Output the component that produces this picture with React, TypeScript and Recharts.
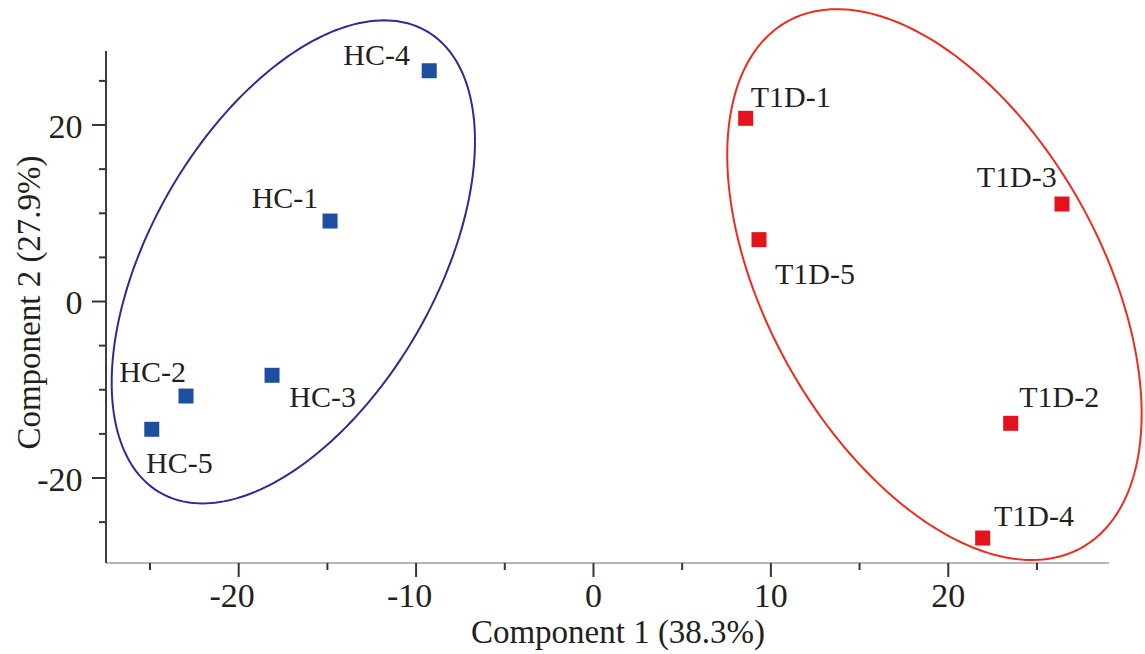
import React from 'react';
import { ScatterChart, Scatter, XAxis, YAxis, ReferenceLine } from 'recharts';

// ---- data ----
const hcNames = ['HC-1', 'HC-2', 'HC-3', 'HC-4', 'HC-5'];
const hcX = [-14.85, -22.97, -18.12, -9.26, -24.9];
const hcY = [9.12, -10.71, -8.36, 26.15, -14.48];

const t1dNames = ['T1D-1', 'T1D-2', 'T1D-3', 'T1D-4', 'T1D-5'];
const t1dX = [8.58, 23.52, 26.41, 21.94, 9.33];
const t1dY = [20.76, -13.8, 11.05, -26.8, 7.01];

const xTicks = [-25, -20, -15, -10, -5, 0, 5, 10, 15, 20, 25];
const xTickLabels = [-20, -10, 0, 10, 20];
const yTicks = [-25, -20, -15, -10, -5, 0, 5, 10, 15, 20, 25];
const yTickLabels = [-20, 0, 20];

const xTitle = 'Component 1 (38.3%)';
const yTitle = 'Component 2 (27.9%)';

// ellipse parameters: [centerX, centerY, halfWidthX, halfHeightY, correlation]
const hcEllipse = [-16.92, 4.49, 10.24, 27.37, 0.5];
const t1dEllipse = [19.22, 1.92, 11.68, 31.21, -0.47];

// axis extents (data units)
const xDomain: [number, number] = [-27.48, 31.09];
const yDomain: [number, number] = [-29.63, 33.6];
const xAxisEnd = 29.06;
const yAxisEnd = 28.39;

// ---- layout / style ----
const FONT = '"Liberation Serif", "Times New Roman", Times, serif';
const TEXT = '#231f20';
const BLUE = '#1d4fa0';
const BLUE_LINE = '#2c2b97';
const RED = '#e3121c';
const RED_LINE = '#ee2b1f';

const labelPlacement: Record<string, { anchor: 'start' | 'end'; dx: number; dy: number }> = {
  'HC-1': { anchor: 'end', dx: -11.7, dy: -12.7 },
  'HC-2': { anchor: 'end', dx: 0, dy: -14.3 },
  'HC-3': { anchor: 'start', dx: 17.3, dy: 31.4 },
  'HC-4': { anchor: 'end', dx: -19.3, dy: -5.7 },
  'HC-5': { anchor: 'start', dx: -5.7, dy: 44 },
  'T1D-1': { anchor: 'start', dx: 5, dy: -11.6 },
  'T1D-2': { anchor: 'start', dx: 8.6, dy: -16.6 },
  'T1D-3': { anchor: 'end', dx: -5.3, dy: -16.7 },
  'T1D-4': { anchor: 'start', dx: 11.3, dy: -11.6 },
  'T1D-5': { anchor: 'start', dx: 16, dy: 44.4 },
};

const hcData = hcNames.map((name, i) => ({ name, x: hcX[i], y: hcY[i] }));
const t1dData = t1dNames.map((name, i) => ({ name, x: t1dX[i], y: t1dY[i] }));

function ellipsePoints(p: number[]) {
  const [cx, cy, rx, ry, rho] = p;
  const phi = Math.acos(rho);
  const pts: { x: number; y: number }[] = [];
  const n = 240;
  for (let k = 0; k <= n; k++) {
    const t = (2 * Math.PI * k) / n;
    pts.push({ x: cx + rx * Math.cos(t), y: cy + ry * Math.cos(t - phi) });
  }
  return pts;
}

const hcEllipsePts = ellipsePoints(hcEllipse);
const t1dEllipsePts = ellipsePoints(t1dEllipse);

const makeSquare = (color: string) => (props: any) => {
  const { cx, cy, payload } = props;
  if (cx == null || cy == null) return <g />;
  const place = labelPlacement[payload.name];
  const s = 15;
  return (
    <g>
      <rect x={cx - s / 2} y={cy - s / 2} width={s} height={s} fill={color} />
      <text
        x={cx + place.dx}
        y={cy + place.dy}
        textAnchor={place.anchor}
        fontFamily={FONT}
        fontSize={30}
        fill={TEXT}
      >
        {payload.name}
      </text>
    </g>
  );
};

const XTick = (props: any) => {
  const { x, y, payload } = props;
  const v = payload.value;
  const major = xTickLabels.includes(v);
  return (
    <g>
      <line x1={x} x2={x} y1={y} y2={y + (major ? 14 : 7)} stroke="#3a3431" strokeWidth={2} />
      {major && (
        <text
          x={x + (v < 0 ? -6.5 : 0)}
          y={y + 44}
          textAnchor="middle"
          fontFamily={FONT}
          fontSize={34}
          fill={TEXT}
        >
          {String(v)}
        </text>
      )}
    </g>
  );
};

const YTick = (props: any) => {
  const { x, y, payload } = props;
  const v = payload.value;
  const major = yTickLabels.includes(v);
  return (
    <g>
      <line x1={x - (major ? 14 : 7)} x2={x} y1={y} y2={y} stroke="#3a3431" strokeWidth={2} />
      {major && (
        <text x={x - 23.5} y={y + 12.5} textAnchor="end" fontFamily={FONT} fontSize={34} fill={TEXT}>
          {String(v)}
        </text>
      )}
    </g>
  );
};

const XTitle = (props: any) => {
  const vb = props.viewBox;
  return (
    <text
      x={vb.x + vb.width / 2 - 7.5}
      y={vb.y + 80}
      textAnchor="middle"
      fontFamily={FONT}
      fontSize={33}
      fill={TEXT}
    >
      {xTitle}
    </text>
  );
};

const YTitle = (props: any) => {
  const vb = props.viewBox;
  const cx = vb.x + 40;
  const cy = vb.y + vb.height / 2 + 18.5;
  return (
    <text
      x={cx}
      y={cy}
      transform={`rotate(-90, ${cx}, ${cy})`}
      textAnchor="middle"
      fontFamily={FONT}
      fontSize={33}
      fill={TEXT}
    >
      {yTitle}
    </text>
  );
};

const noShape = () => <g />;

export default function App() {
  return (
    <div style={{ position: 'absolute', left: 0, top: 0, background: '#fff' }}>
      <ScatterChart width={1145} height={654} margin={{ top: 5, right: 0, bottom: 0, left: 0 }}>
        <XAxis
          type="number"
          dataKey="x"
          domain={xDomain}
          allowDataOverflow
          ticks={xTicks}
          interval={0}
          axisLine={false}
          tickLine={false}
          tickSize={0}
          tickMargin={0}
          height={91}
          tick={<XTick />}
          label={<XTitle />}
        />
        <YAxis
          type="number"
          dataKey="y"
          domain={yDomain}
          allowDataOverflow
          ticks={yTicks}
          interval={0}
          axisLine={false}
          tickLine={false}
          tickSize={0}
          tickMargin={0}
          width={106}
          tick={<YTick />}
          label={<YTitle />}
        />
        <ReferenceLine
          segment={[
            { x: xDomain[0], y: yDomain[0] },
            { x: xAxisEnd, y: yDomain[0] },
          ]}
          stroke="#b9b5b3"
          strokeWidth={2}
          ifOverflow="visible"
        />
        <ReferenceLine
          segment={[
            { x: xDomain[0], y: yDomain[0] },
            { x: xDomain[0], y: yAxisEnd },
          ]}
          stroke="#433d3a"
          strokeWidth={2}
          ifOverflow="visible"
        />
        <Scatter
          data={hcEllipsePts}
          line={{ stroke: BLUE_LINE, strokeWidth: 2 }}
          lineType="joint"
          shape={noShape}
          fill="none"
          isAnimationActive={false}
          legendType="none"
        />
        <Scatter
          data={t1dEllipsePts}
          line={{ stroke: RED_LINE, strokeWidth: 2 }}
          lineType="joint"
          shape={noShape}
          fill="none"
          isAnimationActive={false}
          legendType="none"
        />
        <Scatter data={hcData} shape={makeSquare(BLUE)} isAnimationActive={false} />
        <Scatter data={t1dData} shape={makeSquare(RED)} isAnimationActive={false} />
      </ScatterChart>
    </div>
  );
}
